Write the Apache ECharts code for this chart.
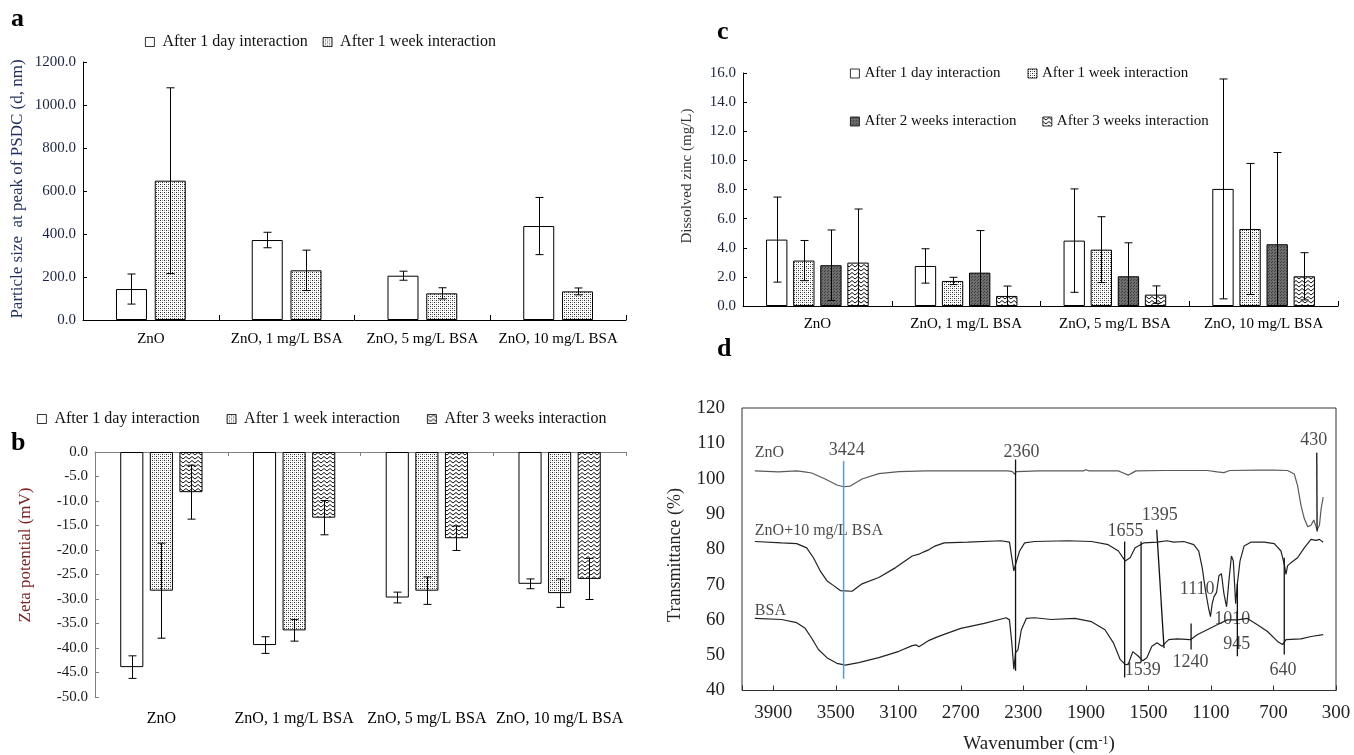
<!DOCTYPE html>
<html><head><meta charset="utf-8">
<script src="https://cdn.jsdelivr.net/npm/echarts@6/dist/echarts.min.js"></script>
<style>html,body{margin:0;padding:0;background:#fff}#c{width:1354px;height:755px}</style>
</head><body><div id="c"></div>
<script>
// ---------- data ----------
const categories = ['ZnO', 'ZnO, 1 mg/L BSA', 'ZnO, 5 mg/L BSA', 'ZnO, 10 mg/L BSA'];
const seriesNames = ['After 1 day interaction', 'After 1 week interaction', 'After 2 weeks interaction', 'After 3 weeks interaction'];

// panel a: particle size (nm)
const sizeDay = [144, 372, 206, 437];
const sizeDayErr = [70, 36, 21, 133];
const sizeWeek = [648, 231, 124, 133];
const sizeWeekErr = [432, 94, 26, 16];

// panel b: zeta potential (mV)
const zetaDay = [-43.9, -39.4, -29.7, -26.9];
const zetaDayErr = [2.3, 1.7, 1.1, 1.0];
const zetaWeek = [-28.3, -36.4, -28.3, -28.8];
const zetaWeekErr = [9.7, 2.2, 2.8, 2.9];
const zeta3Week = [-8.2, -13.4, -17.6, -25.9];
const zeta3WeekErr = [5.5, 3.5, 2.5, 4.2];

// panel c: dissolved zinc (mg/L)
const zincDay = [4.56, 2.75, 4.49, 8.04];
const zincDayErr = [2.92, 1.18, 3.55, 7.55];
const zincWeek = [3.12, 1.72, 3.87, 5.29];
const zincWeekErr = [1.38, 0.25, 2.26, 4.5];
const zinc2Week = [2.8, 2.29, 2.04, 4.24];
const zinc2WeekErr = [2.42, 2.89, 2.3, 6.3];
const zinc3Week = [2.98, 0.69, 0.78, 2.04];
const zinc3WeekErr = [3.68, 0.68, 0.6, 1.62];

// panel d: FTIR spectra [wavenumber, transmittance %]
const znoSpectrum = [[4018,102.2],[3868,101.9],[3750,102.2],[3700,101.9],[3654,101.6],[3568,99.9],[3493,98.2],[3450,97.7],[3407,97.9],[3332,99.9],[3225,101.4],[3096,102],[2924,102.2],[2839,102.2],[2600,102.2],[2400,102.2],[2370,102],[2357,101.3],[2345,102],[2200,102.2],[1917,102.2],[1900,102.5],[1880,102.2],[1694,102.2],[1660,101.6],[1628,101],[1600,101.7],[1580,102.2],[1400,102.3],[1300,102.3],[1124,102.3],[1060,101.9],[1017,101.7],[980,102.3],[800,102.4],[700,102.4],[610,102.3],[567,101.3],[546,98],[524,92.4],[503,88.7],[481,86.4],[460,86.8],[442,88.3],[421,85.5],[406,86.8],[395,91.5],[382,94.8]];
const znoBsaSpectrum = [[4018,82.2],[3847,81.8],[3750,81.6],[3686,80.4],[3643,77.6],[3600,73.9],[3557,71.1],[3514,69.7],[3471,68.3],[3396,68.1],[3332,70.2],[3225,72],[3117,74.8],[3011,78.1],[2968,78.6],[2940,79.2],[2903,79.9],[2871,80.8],[2807,81.8],[2657,82],[2442,82.4],[2389,82],[2374,77.6],[2361,73.9],[2350,75.7],[2339,75.5],[2324,79.5],[2292,81.8],[2228,82.2],[2014,82.4],[1864,82.2],[1757,81.3],[1692,79.5],[1649,76.7],[1617,77.6],[1585,80.4],[1531,81.8],[1445,82],[1381,82.4],[1338,82],[1274,82.2],[1210,81.3],[1178,79.5],[1156,74.8],[1135,68.3],[1113,62.8],[1103,60.9],[1092,64.6],[1081,66.5],[1064,67.8],[1049,72.5],[1033,73.1],[1017,67.4],[1000,63.7],[985,71.1],[969,78.1],[957,76.7],[942,64.6],[931,70.2],[914,76.7],[888,80.9],[845,82],[760,82],[695,81.6],[652,79.5],[631,75.7],[620,72.9],[610,75.3],[588,76.2],[546,77.6],[503,80.4],[460,82.8],[428,82.5],[406,82.8],[382,82]];
const bsaSpectrum = [[4018,60.4],[3847,60.1],[3750,59.2],[3696,57.6],[3654,54.8],[3611,51.6],[3557,49.3],[3493,47.7],[3439,47.2],[3353,47.9],[3225,49.3],[3096,51.1],[3011,52.7],[2985,52.9],[2968,52.4],[2940,53.2],[2903,54.2],[2850,55.2],[2807,55.9],[2700,57.6],[2550,59],[2410,60.6],[2389,60],[2374,53.5],[2361,46],[2350,50.7],[2335,51.5],[2313,57.2],[2281,60.4],[2228,60.6],[2121,60.1],[1971,60.4],[1864,59.5],[1778,57.2],[1724,53.5],[1681,48.8],[1649,47.4],[1630,47.3],[1600,51],[1564,49.7],[1536,48.4],[1510,49.3],[1478,52.5],[1445,53.5],[1413,52.5],[1392,53.5],[1370,54.4],[1317,54.6],[1231,54.4],[1188,55.8],[1124,57.2],[1060,58.6],[995,60],[931,60],[867,60.4],[803,58.6],[738,56.7],[674,53.9],[642,53],[620,54.4],[524,54.6],[460,55.3],[382,55.8]];

// peak marker segments [wnTop, Ttop, wnBottom, Tbottom]
const peakMarkers = [[3450,105,3450,43.3],[2350,105.4,2350,45.6],[1652,82.2,1652,43.7],[1547,82.2,1547,48],[1447,85.5,1400,52],[1227,59,1227,51.6],[931,70.2,931,49.7],[631,77.6,631,50.2],[423,107.3,421,85]];
// peak labels [wn, T, text]
const peakLabels = [[3430,108,'3424'],[2312,107.5,'2360'],[442,111,'430'],[1646,85.2,'1655'],[1428,89.5,'1395'],[1188,68.8,'1110'],[963,60.1,'1010'],[935,53,'945'],[1537,45.8,'1539'],[1231,47.9,'1240'],[639,45.6,'640']];
// curve names [wn, T, text]
const curveNames = [[4018,107.3,'ZnO'],[4018,85.2,'ZnO+10 mg/L BSA'],[4018,62.6,'BSA']];

// ---------- styles ----------
const SERIF = '"Liberation Serif", "Times New Roman", serif';
function makePattern(kind) {
  const c = document.createElement('canvas');
  let ctx;
  if (kind === 'dots') {
    c.width = 4; c.height = 4; ctx = c.getContext('2d');
    ctx.fillStyle = '#fff'; ctx.fillRect(0, 0, 4, 4);
    ctx.fillStyle = '#222'; ctx.fillRect(0, 0, 1, 1); ctx.fillRect(2, 2, 1, 1);
    ctx.fillStyle = '#999'; ctx.fillRect(2, 0, 1, 1); ctx.fillRect(0, 2, 1, 1);
  } else if (kind === 'dark') {
    c.width = 3; c.height = 3; ctx = c.getContext('2d');
    ctx.fillStyle = '#6e6e6e'; ctx.fillRect(0, 0, 3, 3);
    ctx.fillStyle = '#3c3c3c'; ctx.fillRect(0, 0, 1, 1); ctx.fillRect(2, 1, 1, 1);
  } else {
    c.width = 6; c.height = 4; ctx = c.getContext('2d');
    ctx.fillStyle = '#fff'; ctx.fillRect(0, 0, 6, 4);
    ctx.strokeStyle = '#111'; ctx.lineWidth = 1;
    ctx.beginPath(); ctx.moveTo(0, 0.5); ctx.lineTo(3, 3); ctx.lineTo(6, 0.5); ctx.stroke();
  }
  return { image: c, repeat: 'repeat' };
}
const fills = ['#ffffff', makePattern('dots'), makePattern('dark'), makePattern('zig')];

// bar layout per panel
const layouts = [
  { n: 2, cg: 0.486, bg: 0.25 },
  { n: 3, cg: 0.38, bg: 0.28 },
  { n: 4, cg: 0.31, bg: 0.27 }
];

function barSeries(name, fillIdx, values, xi, yi, lay) {
  return {
    type: 'bar', name: name, data: values, xAxisIndex: xi, yAxisIndex: yi,
    barCategoryGap: (lay.cg * 100) + '%', barGap: (lay.bg * 100) + '%',
    itemStyle: { color: fills[fillIdx], borderColor: '#000', borderWidth: 1 },
    silent: true, animation: false
  };
}
function errSeries(values, errs, xi, yi, lay, k) {
  return {
    type: 'custom', xAxisIndex: xi, yAxisIndex: yi, clip: true, silent: true, animation: false, z: 5,
    data: values.map((v, i) => [i, v, errs[i]]),
    renderItem: function (params, api) {
      const idx = api.value(0), v = api.value(1), e = api.value(2);
      const W = api.size([1, 0])[0];
      const total = W * (1 - lay.cg);
      const w = total / (lay.n + (lay.n - 1) * lay.bg);
      const off = -total / 2 + w / 2 + k * w * (1 + lay.bg);
      const top = api.coord([idx, v + e]);
      const bot = api.coord([idx, v - e]);
      const x = Math.round(top[0] + off) + 0.5;
      const cap = 4;
      const st = { stroke: '#000', lineWidth: 1 };
      return {
        type: 'group', children: [
          { type: 'line', shape: { x1: x, y1: top[1], x2: x, y2: bot[1] }, style: st },
          { type: 'line', shape: { x1: x - cap, y1: top[1], x2: x + cap, y2: top[1] }, style: st },
          { type: 'line', shape: { x1: x - cap, y1: bot[1], x2: x + cap, y2: bot[1] }, style: st }
        ]
      };
    }
  };
}

const series = [];
// a
series.push(barSeries(seriesNames[0], 0, sizeDay, 0, 0, layouts[0]));
series.push(barSeries(seriesNames[1], 1, sizeWeek, 0, 0, layouts[0]));
series.push(errSeries(sizeDay, sizeDayErr, 0, 0, layouts[0], 0));
series.push(errSeries(sizeWeek, sizeWeekErr, 0, 0, layouts[0], 1));
// b
series.push(barSeries(seriesNames[0], 0, zetaDay, 1, 1, layouts[1]));
series.push(barSeries(seriesNames[1], 1, zetaWeek, 1, 1, layouts[1]));
series.push(barSeries(seriesNames[3], 3, zeta3Week, 1, 1, layouts[1]));
series.push(errSeries(zetaDay, zetaDayErr, 1, 1, layouts[1], 0));
series.push(errSeries(zetaWeek, zetaWeekErr, 1, 1, layouts[1], 1));
series.push(errSeries(zeta3Week, zeta3WeekErr, 1, 1, layouts[1], 2));
// c
series.push(barSeries(seriesNames[0], 0, zincDay, 3, 2, layouts[2]));
series.push(barSeries(seriesNames[1], 1, zincWeek, 3, 2, layouts[2]));
series.push(barSeries(seriesNames[2], 2, zinc2Week, 3, 2, layouts[2]));
series.push(barSeries(seriesNames[3], 3, zinc3Week, 3, 2, layouts[2]));
series.push(errSeries(zincDay, zincDayErr, 3, 2, layouts[2], 0));
series.push(errSeries(zincWeek, zincWeekErr, 3, 2, layouts[2], 1));
series.push(errSeries(zinc2Week, zinc2WeekErr, 3, 2, layouts[2], 2));
series.push(errSeries(zinc3Week, zinc3WeekErr, 3, 2, layouts[2], 3));
// d
[[znoSpectrum, '#5a5a5a'], [znoBsaSpectrum, '#222'], [bsaSpectrum, '#222']].forEach(function (s) {
  series.push({ type: 'line', data: s[0], xAxisIndex: 4, yAxisIndex: 3, showSymbol: false, silent: true, animation: false,
    lineStyle: { color: s[1], width: 1.2 } });
});
peakMarkers.forEach(function (m, i) {
  series.push({ type: 'line', data: [[m[0], m[1]], [m[2], m[3]]], xAxisIndex: 4, yAxisIndex: 3, showSymbol: false, silent: true, animation: false, z: 3,
    lineStyle: { color: i === 0 ? '#5B9BD5' : '#111', width: i === 0 ? 1.5 : 1.3 } });
});
series.push({ type: 'scatter', xAxisIndex: 4, yAxisIndex: 3, symbolSize: 0, silent: true, animation: false,
  data: peakLabels.map(p => ({ value: [p[0], p[1]], name: p[2] })),
  label: { show: true, position: 'inside', formatter: '{b}', fontFamily: SERIF, fontSize: 18, color: '#1a1a1a' } });
series.push({ type: 'scatter', xAxisIndex: 4, yAxisIndex: 3, symbolSize: 0, silent: true, animation: false,
  data: curveNames.map(p => ({ value: [p[0], p[1]], name: p[2] })),
  label: { show: true, position: 'right', distance: 0, formatter: '{b}', fontFamily: SERIF, fontSize: 16, color: '#1a1a1a' } });

function catAxis(gi, opts) {
  return Object.assign({
    type: 'category', gridIndex: gi, data: categories,
    axisLine: { lineStyle: { color: '#000', width: 1 } },
    axisTick: { show: true, inside: true, length: 5, lineStyle: { color: '#000' } },
    axisLabel: { fontFamily: SERIF, fontSize: 15, color: '#000', margin: 12, interval: 0 },
    splitLine: { show: false }
  }, opts || {});
}
function valAxis(gi, min, max, interval, color, lineColor, fs) {
  return {
    type: 'value', gridIndex: gi, min: min, max: max, interval: interval,
    axisLine: { show: true, lineStyle: { color: lineColor, width: 1 } },
    axisTick: { show: true, inside: true, length: 4, lineStyle: { color: lineColor } },
    axisLabel: { fontFamily: SERIF, fontSize: fs, color: color, formatter: v => v.toFixed(1), margin: 7 },
    splitLine: { show: false }
  };
}

const legendBase = {
  orient: 'horizontal', padding: 0, itemWidth: 9, itemHeight: 9, icon: 'rect', selectedMode: false,
  itemStyle: { borderWidth: 0.8, borderColor: '#000' },
  textStyle: { fontFamily: SERIF, color: '#111', padding: [0, 0, 0, 3] }
};

const option = {
  backgroundColor: '#fff',
  animation: false,
  grid: [
    { left: 83, top: 62, width: 543, height: 258 },
    { left: 95, top: 452, width: 531, height: 245 },
    { left: 743, top: 73, width: 595, height: 233 },
    { left: 742, top: 408, width: 594, height: 287, show: true, borderColor: '#333', borderWidth: 1 }
  ],
  xAxis: [
    catAxis(0),
    catAxis(1, { position: 'top', axisLine: { lineStyle: { color: '#808080' } }, axisTick: { show: true, inside: true, length: 4, lineStyle: { color: '#808080' } }, axisLabel: { show: false } }),
    catAxis(1, { position: 'bottom', axisLine: { show: false }, axisTick: { show: false }, axisLabel: { fontFamily: SERIF, fontSize: 16, color: '#000', margin: 14, interval: 0 } }),
    catAxis(2, { axisLabel: { fontFamily: SERIF, fontSize: 15, color: '#000', margin: 11, interval: 0 } }),
    {
      type: 'value', gridIndex: 3, inverse: true, min: 300, max: 4100, interval: 400,
      axisLine: { show: false },
      axisTick: { show: true, inside: true, length: 5, lineStyle: { color: '#333' } },
      axisLabel: { fontFamily: SERIF, fontSize: 19, color: '#222', margin: 13, formatter: v => (v >= 4100 ? '' : String(v)) },
      splitLine: { show: false },
      name: 'Wavenumber (cm{sup|-1})', nameLocation: 'middle', nameGap: 44,
      nameTextStyle: { fontFamily: SERIF, fontSize: 19, color: '#222', rich: { sup: { fontFamily: SERIF, fontSize: 12, color: '#222', verticalAlign: 'top', padding: [0, 0, 8, 0] } } }
    }
  ],
  yAxis: [
    valAxis(0, 0, 1200, 200, '#1c2340', '#000', 15),
    valAxis(1, -50, 0, 5, '#1a1a1a', '#808080', 15),
    valAxis(2, 0, 16, 2, '#1c2340', '#000', 15),
    {
      type: 'value', gridIndex: 3, min: 40, max: 120, interval: 10,
      axisLine: { show: false }, axisTick: { show: false }, splitLine: { show: false },
      axisLabel: { fontFamily: SERIF, fontSize: 19, color: '#222', margin: 17 }
    }
  ],
  legend: [
    Object.assign({}, legendBase, { data: [seriesNames[0], seriesNames[1]], left: 145, top: 34, itemGap: 15,
      textStyle: Object.assign({}, legendBase.textStyle, { fontSize: 16 }) }),
    Object.assign({}, legendBase, { data: [seriesNames[0], seriesNames[1], seriesNames[3]], left: 37, top: 411, itemGap: 27,
      textStyle: Object.assign({}, legendBase.textStyle, { fontSize: 16 }) }),
    Object.assign({}, legendBase, { data: [seriesNames[0], seriesNames[1]], left: 850, top: 66, itemGap: 27,
      textStyle: Object.assign({}, legendBase.textStyle, { fontSize: 15, padding: [0, 0, 0, 0] }) }),
    Object.assign({}, legendBase, { data: [seriesNames[2], seriesNames[3]], left: 850, top: 114, itemGap: 26,
      textStyle: Object.assign({}, legendBase.textStyle, { fontSize: 15, padding: [0, 0, 0, 0] }) })
  ],
  graphic: [
    { type: 'text', left: 11, top: 6, style: { text: 'a', font: 'bold 26px ' + SERIF, fill: '#000' } },
    { type: 'text', left: 11, top: 430, style: { text: 'b', font: 'bold 26px ' + SERIF, fill: '#000' } },
    { type: 'text', left: 717, top: 19, style: { text: 'c', font: 'bold 26px ' + SERIF, fill: '#000' } },
    { type: 'text', left: 717, top: 336, style: { text: 'd', font: 'bold 26px ' + SERIF, fill: '#000' } },
    { type: 'text', x: 18, y: 189, rotation: Math.PI / 2, style: { text: 'Particle size  at peak of PSDC (d, nm)', font: '17px ' + SERIF, fill: '#1f2f5c', align: 'center', verticalAlign: 'middle' } },
    { type: 'text', x: 26, y: 555, rotation: Math.PI / 2, style: { text: 'Zeta potential (mV)', font: '17px ' + SERIF, fill: '#7b2424', align: 'center', verticalAlign: 'middle' } },
    { type: 'text', x: 687, y: 176, rotation: Math.PI / 2, style: { text: 'Dissolved zinc (mg/L)', font: '15px ' + SERIF, fill: '#333', align: 'center', verticalAlign: 'middle' } },
    { type: 'text', x: 675, y: 555, rotation: Math.PI / 2, style: { text: 'Transmittance (%)', font: '18px ' + SERIF, fill: '#222', align: 'center', verticalAlign: 'middle' } }
  ],
  series: series
};

const chart = echarts.init(document.getElementById('c'), null, { renderer: 'canvas' });
chart.setOption(option);
</script>
</body></html>
